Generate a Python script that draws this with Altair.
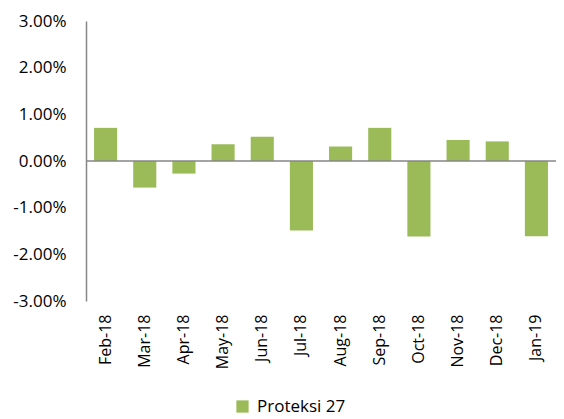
import altair as alt
import pandas as pd

months = ["Feb-18", "Mar-18", "Apr-18", "May-18", "Jun-18", "Jul-18",
          "Aug-18", "Sep-18", "Oct-18", "Nov-18", "Dec-18", "Jan-19"]
values = [0.0071, -0.0057, -0.0027, 0.0036, 0.0052, -0.0149,
          0.0031, 0.0071, -0.0162, 0.0045, 0.0042, -0.0161]
series = ["Proteksi 27"] * len(months)

df = pd.DataFrame({"month": months, "value": values, "series": series})

FONT = "Open Sans"

bars = alt.Chart(df).mark_bar(color="#9BBB59").encode(
    x=alt.X("month:N", sort=months, title=None,
            scale=alt.Scale(paddingInner=0.41, paddingOuter=0.205),
            axis=alt.Axis(labelAngle=-90, domain=False, ticks=False,
                          labelPadding=13, labelFontSize=16, labelColor="#000000",
                          labelFont=FONT, labelBaseline="middle", labelAlign="right")),
    y=alt.Y("value:Q", title=None,
            scale=alt.Scale(domain=[-0.03, 0.03], nice=False),
            axis=alt.Axis(format=".2%", values=[-0.03, -0.02, -0.01, 0, 0.01, 0.02, 0.03],
                          labelExpr="replace(datum.label, '\u2212', '-')",
                          grid=False, ticks=False, labelPadding=20, domainColor="#868686",
                          domainWidth=1.5, labelFontSize=17, labelColor="#000000", labelFont=FONT)),
    color=alt.Color("series:N", scale=alt.Scale(range=["#9BBB59"]), title=None,
                    legend=alt.Legend(orient="none", legendX=148, legendY=377,
                                      symbolType="square", symbolSize=150, symbolStrokeWidth=0,
                                      labelFontSize=17, labelFont=FONT, labelColor="#000000",
                                      labelOffset=6)),
)

zero = alt.Chart(pd.DataFrame({"z": [0]})).mark_rule(color="#868686", strokeWidth=1.5).encode(
    y=alt.Y("z:Q", scale=alt.Scale(domain=[-0.03, 0.03], nice=False))
)

chart = alt.layer(bars, zero).properties(
    width=470, height=280,
    autosize=alt.AutoSizeParams(type="none"),
    padding={"left": 78, "top": 13, "right": 0, "bottom": 117},
).configure_view(stroke=None)

chart.save("out.html", embed_options={"renderer": "svg", "actions": False})
